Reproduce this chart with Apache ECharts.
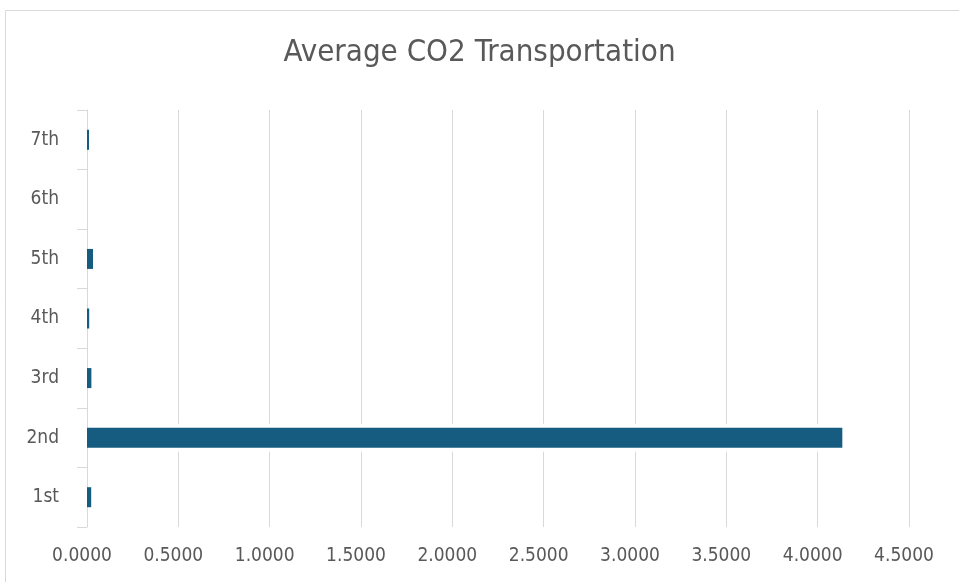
<!DOCTYPE html>
<html>
<head>
<meta charset="utf-8">
<style>
  html, body { margin: 0; padding: 0; background: #fff; }
  #chart { width: 959px; height: 582px; }
</style>
<script src="https://cdn.jsdelivr.net/npm/echarts@6/dist/echarts.min.js"></script>
</head>
<body>
<div id="chart"></div>
<script>
// Average CO2 emissions per transportation group
const categories = ['1st', '2nd', '3rd', '4th', '5th', '6th', '7th'];
const values = [0.023, 4.135, 0.024, 0.012, 0.033, 0, 0.011];
const xTicks = { min: 0, max: 4.5, interval: 0.5 };

const FONT = '"DejaVu Sans Condensed", "Liberation Sans Narrow", "Arial Narrow", sans-serif';
const TEXT = '#595959';
const BAR = '#165c80';

// white band behind each bar so the gridlines break around it
function renderHalo(params, api) {
  const start = api.coord([0, api.value(1)]);
  const end = api.coord([api.value(0), api.value(1)]);
  const band = api.size([0, 1])[1];
  const h = band * 0.47;
  return {
    type: 'rect',
    shape: { x: start[0] + 1, y: start[1] - h / 2, width: Math.max(0, end[0] - start[0] + 1), height: h },
    style: { fill: '#ffffff' }
  };
}

const chart = echarts.init(document.getElementById('chart'));
chart.setOption({
  animation: false,
  backgroundColor: '#fff',
  graphic: [{
    type: 'rect',
    shape: { x: 5.5, y: 10.5, width: 1000, height: 700 },
    style: { fill: 'none', stroke: '#d9d9d9', lineWidth: 1 },
    silent: true
  }],
  title: {
    text: 'Average CO2 Transportation',
    left: 'center',
    top: 32,
    textStyle: { fontFamily: FONT, fontSize: 31, fontWeight: 'normal', color: TEXT }
  },
  grid: { left: 87, right: 50, top: 110, bottom: 55, containLabel: false },
  xAxis: {
    type: 'value',
    min: xTicks.min,
    max: xTicks.max,
    interval: xTicks.interval,
    axisLine: { show: false },
    axisTick: { show: false },
    splitLine: { show: true, lineStyle: { color: '#d9d9d9', width: 1 } },
    axisLabel: {
      formatter: v => v.toFixed(4),
      fontFamily: FONT, fontSize: 19, color: TEXT, margin: 20,
      padding: [0, 10, 0, 0]
    }
  },
  yAxis: {
    type: 'category',
    data: categories,
    axisLine: { show: true, lineStyle: { color: '#d9d9d9', width: 1 } },
    axisTick: { show: true, length: 10, lineStyle: { color: '#d9d9d9' } },
    axisLabel: { fontFamily: FONT, fontSize: 19, color: TEXT, margin: 28 }
  },
  series: [{
    type: 'custom',
    renderItem: renderHalo,
    data: values.map((v, i) => [v, i]),
    encode: { x: 0, y: 1 },
    silent: true,
    z: 1
  }, {
    type: 'bar',
    data: values,
    barWidth: 20,
    itemStyle: { color: BAR },
    z: 2
  }]
});
</script>
</body>
</html>
